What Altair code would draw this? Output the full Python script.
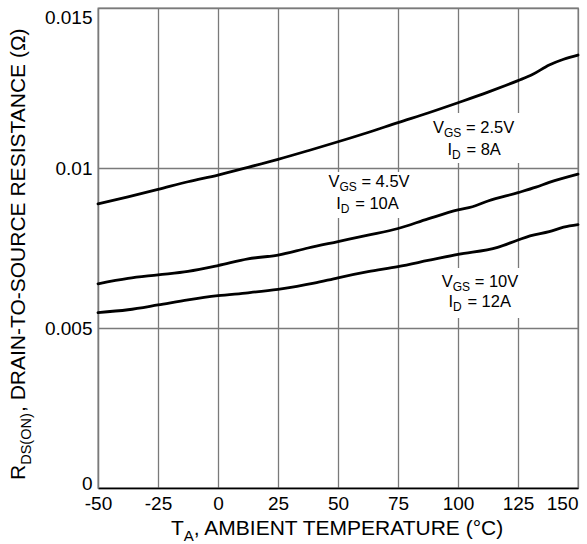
import altair as alt
import pandas as pd

# ---------------- data ----------------
series_names = ["VGS=2.5V", "VGS=4.5V", "VGS=10V"]

temps_25 = [-50, -37.5, -25, -12.5, 0, 12.5, 25, 37.5, 50, 62.5, 75, 87.5, 100, 112.5, 125, 131, 138, 144, 150]
rds_25 = [0.00888, 0.0091, 0.00933, 0.00957, 0.00978, 0.01002, 0.01027, 0.01054, 0.01082, 0.01111,
          0.01142, 0.01172, 0.01204, 0.01237, 0.01273, 0.01292, 0.01322, 0.0134, 0.01353]

temps_45 = [-50, -37.5, -25, -12.5, 0, 12.5, 25, 37.5, 50, 62.5, 75, 87.5, 100, 106, 112.5, 125, 132.5, 138, 150]
rds_45 = [0.00638, 0.00655, 0.00666, 0.00677, 0.00695, 0.00716, 0.00728, 0.0075, 0.0077, 0.0079,
          0.00811, 0.00841, 0.00869, 0.00879, 0.00897, 0.00923, 0.0094, 0.00955, 0.00981]

temps_10 = [-50, -37.5, -25, -12.5, 0, 12.5, 25, 40, 50, 62.5, 75, 87.5, 100, 116.5, 125, 130, 138, 144, 150]
rds_10 = [0.00548, 0.00557, 0.00572, 0.00588, 0.00601, 0.0061, 0.00621, 0.0064, 0.00657, 0.00676,
          0.00692, 0.00711, 0.0073, 0.00752, 0.00775, 0.00788, 0.00801, 0.00815, 0.00823]

x_ticks = [-50, -25, 0, 25, 50, 75, 100, 125, 150]
x_tick_labels = ["-50", "-25", "0", "25", "50", "75", "100", "125", "150"]
y_ticks = [0, 0.005, 0.01, 0.015]
y_tick_labels = ["0", "0.005", "0.01", "0.015"]

# curve annotations (anchor temperature, baseline resistance)
v_line_T = [89.6, 46.0, 93.2]
v_line_R = [0.011103, 0.009397, 0.006272]
v_line_rest = ["= 2.5V", "= 4.5V", "= 10V"]
i_line_T = [95.6, 49.25, 96.0]
i_line_R = [0.010406, 0.008709, 0.005647]
i_line_rest = ["= 8A", "= 10A", "= 12A"]

# white backgrounds behind annotations
box_T1 = [86.25, 43.3, 91.25]
box_T2 = [127.9, 80.8, 127.1]
box_R1 = [0.01016, 0.008438, 0.005313]
box_R2 = [0.01172, 0.009875, 0.006875]

x_title_parts = ["T", "A", ", AMBIENT TEMPERATURE (°C)"]
y_title_parts = ["R", "DS(ON)", ", DRAIN-TO-SOURCE RESISTANCE (Ω)"]

# ---------------- tables ----------------
curves = pd.concat([
    pd.DataFrame({"T": temps_25, "R": rds_25, "s": series_names[0]}),
    pd.DataFrame({"T": temps_45, "R": rds_45, "s": series_names[1]}),
    pd.DataFrame({"T": temps_10, "R": rds_10, "s": series_names[2]}),
], ignore_index=True)

vdf = pd.DataFrame({"T": v_line_T, "R": v_line_R, "rest": v_line_rest})
idf = pd.DataFrame({"T": i_line_T, "R": i_line_R, "rest": i_line_rest})
boxes = pd.DataFrame({"T": box_T1, "T2": box_T2, "R": box_R1, "R2": box_R2})

FONT = "Liberation Sans"

def js_list(items):
    return "[" + ",".join(repr(v) if isinstance(v, str) else str(v) for v in items) + "]"

x_scale = alt.Scale(domain=[-50, 150], nice=False, zero=False)
y_scale = alt.Scale(domain=[0, 0.015], nice=False, zero=False)

x_axis = alt.Axis(
    values=x_ticks, title=None, grid=True, ticks=False, tickSize=0,
    labelExpr=f"{js_list(x_tick_labels)}[indexof({js_list(x_ticks)}, datum.value)]",
    labelAlign={"expr": "datum.value >= 150 ? 'right' : 'center'"},
    labelFlush=False, labelPadding=6, labelOverlap=False,
    domainColor="black", domainWidth=1.6,
)
y_axis = alt.Axis(
    values=y_ticks, title=None, grid=True, ticks=False, tickSize=0,
    labelExpr=f"{js_list(y_tick_labels)}[indexof({js_list(y_ticks)}, datum.value)]",
    labelBaseline={"expr": "datum.value >= 0.015 ? 'top' : (datum.value == 0 ? 'bottom' : 'middle')"},
    labelOffset={"expr": "datum.value == 0 ? 5 : 0"},
    labelFlush=False, labelPadding=6, labelOverlap=False,
    domainColor="#7a7a7a", domainWidth=1.3,
)

X = lambda f: alt.X(f, scale=x_scale, axis=x_axis)
Y = lambda f: alt.Y(f, scale=y_scale, axis=y_axis)

box_layer = alt.Chart(boxes).mark_rect(color="white", opacity=1).encode(
    x=X("T:Q"), x2="T2:Q", y=Y("R:Q"), y2="R2:Q"
)

curve_layer = alt.Chart(curves).mark_line(
    color="black", strokeWidth=2.8, interpolate="monotone", strokeCap="round"
).encode(x=X("T:Q"), y=Y("R:Q"), detail="s:N")

MAIN = 16.5
SUB = 12

def txt(df, text, dx, dy, size):
    return alt.Chart(df).mark_text(
        font=FONT, fontSize=size, align="left", baseline="alphabetic", dx=dx, dy=dy, color="black"
    ).encode(x=X("T:Q"), y=Y("R:Q"), text=text)

label_layers = [
    txt(vdf, alt.value("V"), 0, 0, MAIN),
    txt(vdf, alt.value("GS"), 11, 4, SUB),
    txt(vdf, "rest:N", 33, 0, MAIN),
    txt(idf, alt.value("I"), 0, 0, MAIN),
    txt(idf, alt.value("D"), 4.6, 4, SUB),
    txt(idf, "rest:N", 19, 0, MAIN),
]

def title_piece(text, px, py, size, angle=0):
    kw = dict(font=FONT, fontSize=size, align="left", baseline="alphabetic", color="black")
    if angle:
        kw["angle"] = angle
    return alt.Chart(pd.DataFrame({"t": [text]})).mark_text(**kw).encode(
        x=alt.value(px), y=alt.value(py), text="t:N"
    )

# plot origin is at (98, 8) in the page
title_layers = [
    title_piece(x_title_parts[0], 73, 527, 21),
    title_piece(x_title_parts[1], 85.8, 533, 15),
    title_piece(x_title_parts[2], 95.8, 527, 21),
    title_piece(y_title_parts[0], -73, 472, 21, 270),
    title_piece(y_title_parts[1], -67, 456.8, 14.5, 270),
    title_piece(y_title_parts[2], -73, 404, 21, 270),
]

chart = alt.layer(box_layer, curve_layer, *label_layers, *title_layers).properties(
    width=480, height=480, autosize="none",
    padding={"left": 98, "top": 8, "right": 9, "bottom": 56},
    background="white",
).configure_view(
    stroke="#7a7a7a", strokeWidth=1.3
).configure_axis(
    labelFont=FONT, labelFontSize=19, labelColor="black",
    gridColor="#7a7a7a", gridWidth=1.3, gridOpacity=1,
)

chart.save("out.html", embed_options={"renderer": "svg", "actions": False})
